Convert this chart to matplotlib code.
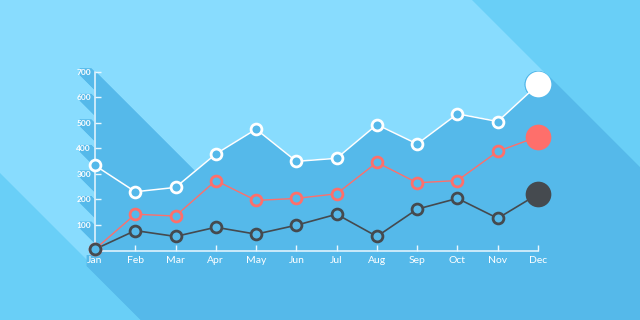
import numpy as np

import matplotlib
matplotlib.use("Agg")
import matplotlib.pyplot as plt
from matplotlib.patches import Polygon, Rectangle

months = ["Jan", "Feb", "Mar", "Apr", "May", "Jun",
          "Jul", "Aug", "Sep", "Oct", "Nov", "Dec"]
white_vals = [333, 230, 247, 378, 475, 349, 361, 493, 417, 535, 505, 650]
red_vals = [5, 142, 135, 274, 196, 204, 222, 345, 265, 274, 388, 446]
dark_vals = [5, 78, 55, 91, 64, 99, 142, 55, 162, 204, 126, 221]
y_ticks = [100, 200, 300, 400, 500, 600, 700]

BG = "#88DCFE"
BAND = "#69CFF7"
SHADOW = "#55B9EA"
AXIS = "#EAF7FE"
WHITE = "#FFFFFF"
RED = "#FE6F6B"
DARK = "#454A4F"

W, H = 640, 320
fig = plt.figure(figsize=(6.4, 3.2), dpi=100)

# background layer in pixel coordinates (y down)
bg = fig.add_axes([0, 0, 1, 1])
bg.set_xlim(0, W)
bg.set_ylim(H, 0)
bg.axis("off")
bg.add_patch(Rectangle((0, 0), W, H, color=BG, lw=0))
bg.add_patch(Polygon([(0, 173), (147, 320), (0, 320)], color=BAND, lw=0))
bg.add_patch(Polygon([(472, 0), (640, 0), (640, 168)], color=BAND, lw=0))

# chart axes
ax = fig.add_axes([95 / W, (H - 250.5) / H, 443 / W, (250.5 - 71.7) / H])
ax.set_xlim(0, 11)
ax.set_ylim(0, 700)
ax.patch.set_visible(False)
x = np.arange(len(months))


def to_px(pts):
    disp = ax.transData.transform(np.asarray(pts, dtype=float))
    return bg.transData.inverted().transform(disp)


def sweep(poly, dist=900):
    # long flat-design shadow: the shape dragged towards the lower right
    poly = np.asarray(poly)
    d = np.array([dist, dist])
    for a, b in zip(poly, np.roll(poly, -1, axis=0)):
        bg.add_patch(Polygon([a, b, b + d, a + d], fc=SHADOW, ec=SHADOW, lw=0.6))
    bg.add_patch(Polygon(poly, fc=SHADOW, ec=SHADOW, lw=0.6))


area = [(0, 700)] + list(zip(x, white_vals)) + [(11, 0), (0, 0)]
sweep(to_px(area))

cx, cy = to_px([(11, white_vals[-1])])[0]
t = np.linspace(0, 2 * np.pi, 40, endpoint=False)
sweep(np.column_stack([cx + 13 * np.cos(t), cy + 13 * np.sin(t)]))

for v in y_ticks:
    px, py = to_px([(0, v)])[0]
    sweep([(px - 15, py - 3), (px - 4, py - 3), (px - 4, py + 3), (px - 15, py + 3)])
for i in x:
    px, py = to_px([(i, 0)])[0]
    sweep([(px - 8, py + 5), (px + 8, py + 5), (px + 8, py + 15), (px - 8, py + 15)])

# axes styling
for side in ["top", "right"]:
    ax.spines[side].set_visible(False)
for side in ["left", "bottom"]:
    ax.spines[side].set_color(AXIS)
    ax.spines[side].set_linewidth(1.1)

ax.set_xticks(x, months)
ax.set_yticks(y_ticks)
ax.tick_params(direction="in", length=4, width=1, color=AXIS, labelcolor=WHITE)
ax.tick_params(axis="x", labelsize=7.5, pad=4)
ax.tick_params(axis="y", labelsize=6, pad=3)
for lab in ax.get_xticklabels():
    lab.set_fontfamily("Lato")
for lab in ax.get_yticklabels():
    lab.set_fontfamily("Lato")
    lab.set_fontweight("bold")

series = [
    (red_vals, RED, 1.0, 3),
    (dark_vals, DARK, 1.2, 4),
    (white_vals, WHITE, 1.1, 5),
]
for vals, color, lw, z in series:
    ax.plot(x, vals, color=color, lw=lw, zorder=z, clip_on=False)
for vals, color, lw, z in series:
    ax.plot(x[:-1], vals[:-1], ls="none", marker="o", ms=7.8, mew=2.0,
            mfc=SHADOW, mec=color, zorder=z + 5, clip_on=False)
    ax.plot(x[-1:], vals[-1:], ls="none", marker="o", ms=18.5, mew=0,
            mfc=color, zorder=z + 5, clip_on=False)

fig.savefig("out.png", dpi=100)
